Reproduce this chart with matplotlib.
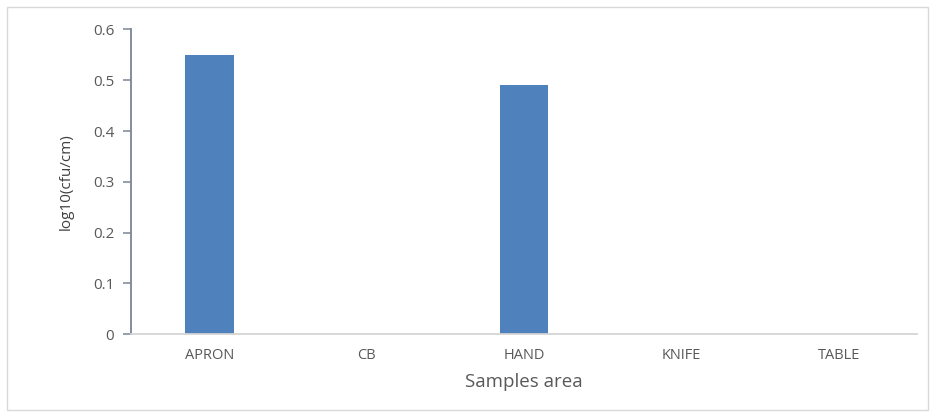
import matplotlib
matplotlib.use("Agg")
import matplotlib.pyplot as plt
from matplotlib.patches import Rectangle

# dane z wykresu
areas = ['APRON', 'CB', 'HAND', 'KNIFE', 'TABLE']
log_cfu = [0.55, 0.0, 0.49, 0.0, 0.0]
y_ticks = [0, 0.1, 0.2, 0.3, 0.4, 0.5, 0.6]
y_tick_labels = ['0', '0.1', '0.2', '0.3', '0.4', '0.5', '0.6']

plt.rcParams['font.family'] = ['Open Sans', 'DejaVu Sans']

fig = plt.figure(figsize=(9.35, 4.15), dpi=100)
# ramka wokol calego wykresu
fig.patches.append(Rectangle((0.008, 0.012), 0.984, 0.972, transform=fig.transFigure,
                             fill=False, edgecolor='#d9d9d9', linewidth=1.0))

ax = fig.add_axes([0.140, 0.195, 0.841, 0.734])
x = range(len(areas))
ax.bar(x, log_cfu, width=0.31, color='#4f81bd')

ax.set_xlim(-0.5, len(areas) - 0.5)
ax.set_ylim(0, 0.6)
ax.set_yticks(y_ticks)
ax.set_yticklabels(y_tick_labels)
ax.set_xticks(list(x))
ax.set_xticklabels(areas)

for side in ['top', 'right']:
    ax.spines[side].set_visible(False)
ax.spines['left'].set_color('#7a8594')
ax.spines['left'].set_linewidth(1.3)
ax.spines['bottom'].set_color('#d4d4d4')
ax.spines['bottom'].set_linewidth(1.3)

ax.tick_params(axis='y', length=6, width=1.1, color='#7a8594', pad=6,
               labelsize=11, labelcolor='#595959')
ax.tick_params(axis='x', length=0, pad=10, labelsize=10.5, labelcolor='#595959')

ax.set_ylabel('log10(cfu/cm)', fontsize=11, color='#404040', labelpad=14)
ax.set_xlabel('Samples area', fontsize=13.5, color='#595959', labelpad=7)

fig.savefig('out.png', dpi=100)
